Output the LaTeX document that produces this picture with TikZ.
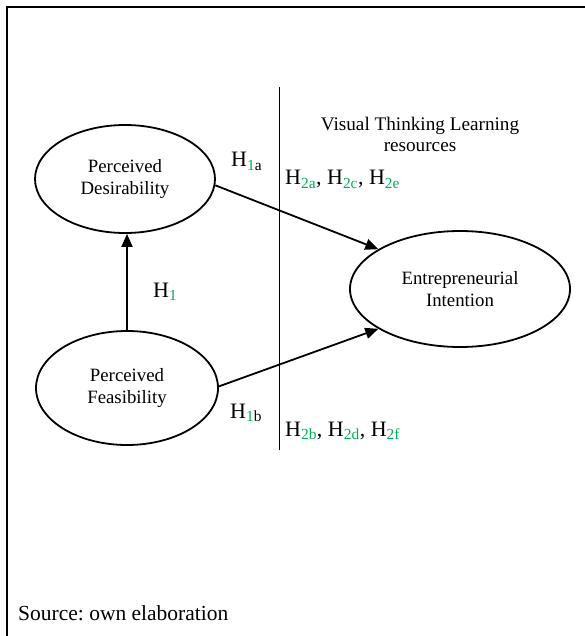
\documentclass[tikz,border=0pt]{standalone}
\usepackage{fontspec}
\setmainfont{Liberation Serif}
\usetikzlibrary{shapes.geometric,arrows.meta}
\definecolor{hgreen}{RGB}{0,176,80}
\frenchspacing
\newcommand{\Hs}[1]{H\textsubscript{\textcolor{hgreen}{#1}}}
\newcommand{\Hsm}[2]{H\textsubscript{\textcolor{hgreen}{#1}#2}}
\tikzset{
  construct/.style={draw, line width=1.8pt, ellipse, inner sep=0pt, align=center,
    font=\fontsize{18.8}{22}\selectfont},
  hlabel/.style={anchor=base west, inner sep=0pt, font=\fontsize{22}{26}\selectfont},
  link/.style={line width=1.8pt, -{Triangle[length=13pt,width=11pt]}},
}
\begin{document}
\begin{tikzpicture}[x=1pt,y=-1pt]
\useasboundingbox (0,0) rectangle (585,636);
% frame
\draw[line width=2.5pt] (7,636) -- (7,7) -- (585,7);
% ellipses
\node[construct, minimum width=180pt, minimum height=108pt] (pd) at (125,179) {Perceived\\Desirability};
\node[construct, minimum width=182pt, minimum height=114pt] (pf) at (127,388) {Perceived\\Feasibility};
\node[construct, minimum width=220pt, minimum height=116pt] (ei) at (460,289) {Entrepreneurial\\Intention};
% vertical separator
\coordinate (vtop) at (279,87);
\coordinate (vbot) at (279,450);
\draw[line width=1pt] (vtop) -- (vbot);
% arrows
\draw[link] (pd.-4) -- (ei.154);
\draw[link] (pf.1) -- (ei.206);
\draw[link] (pf.north) -- (pf.north |- pd.south);
% labels
\node[hlabel] (h1a) at (231,167) {\Hsm{1}{a}};
\node[hlabel] (h1) at (153,297) {\Hs{1}};
\node[hlabel] (h1b) at (230,418) {\Hsm{1}{b}};
\node[hlabel] (h2ace) at (285,185) {\Hs{2a}, \Hs{2c}, \Hs{2e}};
\node[hlabel] (h2bdf) at (285,436) {\Hs{2b}, \Hs{2d}, \Hs{2f}};
\node[align=center, inner sep=0pt, anchor=base, font=\fontsize{19.2}{21}\selectfont] (vt) at (420,152) {Visual Thinking Learning\\resources};
\node[hlabel, font=\fontsize{21.5}{26}\selectfont] (src) at (18,620) {Source: own elaboration};
\end{tikzpicture}
\end{document}
